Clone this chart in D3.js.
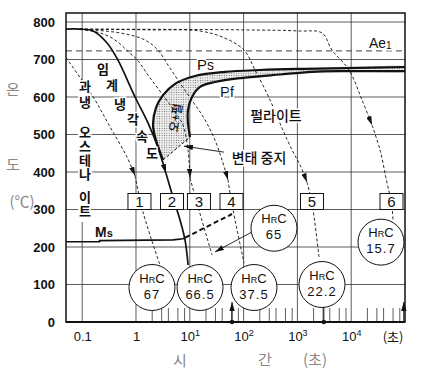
<!DOCTYPE html>
<html>
<head>
<meta charset="utf-8">
<script src="https://cdn.jsdelivr.net/npm/d3@7"></script>
<style>
body { margin: 0; background: #fff; }
svg { display: block; }
text { font-family: "Liberation Sans", Arial, sans-serif; fill: #111; }
.kr { font-family: "Noto Sans CJK KR", sans-serif; }
</style>
</head>
<body>
<svg id="chart" width="424" height="371"></svg>
<script>
// temperature (°C) and time (s) axes
const tempTicks = [0, 100, 200, 300, 400, 500, 600, 700, 800];
const timeDecades = [0.1, 1, 10, 100, 1000, 10000];
const timeLabels = ['0.1', '1', '10^1', '10^2', '10^3', '10^4'];
const minorSteps = [2, 3, 4, 6, 8];
const ae1 = 723;

// pearlite start / finish curves [time, temp]
const psCurve = [[3.18, 432], [2.35, 485], [2.07, 525], [2.35, 571], [3.18, 605], [5.31, 635],
  [12.5, 656], [45, 667], [202, 672], [1117, 675], [7670, 677], [100000, 680]];
const pfCurve = [[10.1, 493], [9.26, 531], [9.26, 565], [11, 600], [15.5, 627], [29.4, 640],
  [97, 651], [475, 660], [1867, 667], [7670, 669], [100000, 669]];

// Ms line
const msSolid = [[0.05, 214], [0.21, 214], [0.21, 217], [4.9, 219], [7.5, 222], [8.2, 225]];
const msDashed = [[8.2, 225], [61, 288]];

// cooling curves [time, temp]; arrowIdx = point where the arrow head sits
const cool1 = [[0.05, 705], [0.16, 600], [0.33, 520], [0.68, 440], [0.96, 390], [1.35, 293], [2.79, 152]];
const cool2 = [[0.05, 781], [0.091, 781], [0.16, 776], [0.29, 744], [0.46, 699], [0.96, 600], [1.67, 531],
  [2.46, 472], [3.6, 397], [4.87, 333], [6.58, 272], [8.15, 219], [9.3, 152]];
const cool3 = [[0.091, 780], [0.2, 772], [0.33, 760], [0.5, 742], [0.75, 718], [1.04, 700], [1.82, 651],
  [3.18, 605], [5.31, 560], [7.48, 525], [9.26, 459], [10.1, 384], [13.6, 317], [25.9, 179]];
const cool4 = [[0.091, 781], [0.5, 771], [1.47, 752], [2.56, 725], [3.94, 685], [6.58, 637], [11.5, 587],
  [19.2, 539], [29.4, 485], [39.7, 432], [51.3, 379], [60, 318], [102, 157]];
const cool5 = [[0.091, 781], [1.82, 779], [15.5, 776], [45, 757], [102, 725], [163, 672], [310, 592],
  [518, 517], [794, 459], [1117, 419], [1507, 373], [1867, 317], [2519, 173]];
const cool6 = [[0.091, 781], [100, 779], [1117, 776], [2866, 771], [4396, 725], [9100, 672], [15900, 592],
  [24400, 525], [34300, 459], [46300, 371], [56100, 318], [59800, 272]];
const coolCurves = [cool1, cool2, cool3, cool4, cool5, cool6];
const arrowIdx = [4, 8, 11, 10, 10, 7];

// numbered boxes (sit on 300 °C) and hardness circles
const boxLabels = ['1', '2', '3', '4', '5', '6'];
const boxTimes = [1.16, 4.67, 14.8, 59.6, 1867, 56100];
const boxTemp = 300;
const hrcValues = ['67', '66.5', '65', '37.5', '22.2', '15.7'];
const hrcTimes = [1.98, 15.5, 367, 156, 2866, 35800];
const hrcTemps = [92, 92, 250, 92, 100, 213];

// pointer arrows and bottom markers
const hrc65Arrow = [[143, 240], [29.4, 187]];
const stopArrow = [[43, 453], [7.8, 469]];
const bottomMarks = [61, 3100, 95000];

const svg = d3.select('#chart');
const x = d3.scaleLog().domain([0.05, 1e5]).range([66, 405]);
const y = d3.scaleLinear().domain([0, 824]).range([322, 13]);
const [x0, x1] = x.range();
const [y0, y1] = y.range();

const straight = d3.line().x(d => x(d[0])).y(d => y(d[1]));
const smooth = d3.line().x(d => x(d[0])).y(d => y(d[1])).curve(d3.curveCatmullRom.alpha(0.5));

const defs = svg.append('defs');
defs.append('marker').attr('id', 'head')
  .attr('viewBox', '0 0 10 6').attr('refX', 10).attr('refY', 3)
  .attr('markerWidth', 9).attr('markerHeight', 5.5)
  .attr('markerUnits', 'userSpaceOnUse').attr('orient', 'auto')
  .append('path').attr('d', 'M0,0L10,3L0,6Z').attr('fill', '#111');
const pat = defs.append('pattern').attr('id', 'dots')
  .attr('width', 2.4).attr('height', 2.4).attr('patternUnits', 'userSpaceOnUse');
pat.append('rect').attr('width', 2.4).attr('height', 2.4).attr('fill', '#f2f2f2');
pat.append('circle').attr('cx', 1.2).attr('cy', 1.2).attr('r', 0.6).attr('fill', '#666');
defs.append('clipPath').attr('id', 'plot').append('rect')
  .attr('x', x0).attr('y', y1).attr('width', x1 - x0).attr('height', y0 - y1);

// grid
const grid = svg.append('g').attr('stroke', '#333').attr('stroke-width', 0.8);
grid.selectAll('.h').data(tempTicks.filter(d => d > 0)).join('line')
  .attr('x1', x0).attr('x2', x1).attr('y1', d => y(d)).attr('y2', d => y(d));
grid.selectAll('.v').data(timeDecades).join('line')
  .attr('x1', d => x(d)).attr('x2', d => x(d)).attr('y1', y1).attr('y2', y0);

const minor = [];
[1, 10, 100, 1000, 10000].forEach(dec => minorSteps.forEach(s => minor.push(dec * s)));
grid.selectAll('.m').data(minor).join('line')
  .attr('x1', d => x(d)).attr('x2', d => x(d)).attr('y1', y0).attr('y2', y0 - 14);

svg.append('line').attr('x1', x0).attr('x2', x1).attr('y1', y(ae1)).attr('y2', y(ae1))
  .attr('stroke', '#444').attr('stroke-width', 1).attr('stroke-dasharray', '6,4');

// text column over the 0.1 s line
svg.append('rect').attr('x', x(0.1) - 4).attr('y', 80).attr('width', 9).attr('height', 142).attr('fill', '#fff');

const plot = svg.append('g').attr('clip-path', 'url(#plot)');

// transformation region
plot.append('path')
  .attr('d', smooth(psCurve.concat(pfCurve.slice().reverse())) + 'Z')
  .attr('fill', 'url(#dots)');
plot.append('path').attr('d', straight([psCurve[0], pfCurve[0]]))
  .attr('fill', 'none').attr('stroke', '#111').attr('stroke-width', 1).attr('stroke-dasharray', '3,2');
[psCurve, pfCurve].forEach(c => plot.append('path').attr('d', smooth(c))
  .attr('fill', 'none').attr('stroke', '#111').attr('stroke-width', 2.2));

// cooling curves
coolCurves.forEach((c, i) => {
  const solid = i === 1;
  const upper = c.slice(0, arrowIdx[i] + 1);
  const lower = c.slice(arrowIdx[i]);
  const st = p => p.attr('fill', 'none').attr('stroke', '#111')
    .attr('stroke-width', solid ? 1.7 : 0.9).attr('stroke-dasharray', solid ? null : '3,2.2');
  plot.append('path').attr('d', smooth(upper)).call(st).attr('marker-end', 'url(#head)');
  plot.append('path').attr('d', smooth(lower)).call(st);
});

// Ms
plot.append('path').attr('d', straight(msSolid)).attr('fill', 'none').attr('stroke', '#111').attr('stroke-width', 1.6);
plot.append('path').attr('d', straight(msDashed)).attr('fill', 'none').attr('stroke', '#111')
  .attr('stroke-width', 2).attr('stroke-dasharray', '5,3');

// pointer arrows
[hrc65Arrow, stopArrow].forEach(a => svg.append('path').attr('d', straight(a))
  .attr('fill', 'none').attr('stroke', '#111').attr('stroke-width', 0.9).attr('marker-end', 'url(#head)'));

// bottom markers
bottomMarks.forEach((t, i) => {
  const g = svg.append('g');
  g.append('line').attr('x1', x(t)).attr('x2', x(t)).attr('y1', y0).attr('y2', y0 - 20)
    .attr('stroke', '#111').attr('stroke-width', 1)
    .attr('marker-end', i === 1 ? null : 'url(#head)');
  if (i < 2) g.append('circle').attr('cx', x(t)).attr('cy', y0).attr('r', 2.2).attr('fill', '#111');
  if (i === 1) g.append('rect').attr('x', x(t) - 3).attr('y', y0 - 18).attr('width', 6).attr('height', 3).attr('fill', '#111');
});

// boxes
const boxes = svg.append('g').selectAll('g').data(boxLabels).join('g')
  .attr('transform', (d, i) => `translate(${x(boxTimes[i])},${y(boxTemp)})`);
boxes.append('rect').attr('x', -11.5).attr('y', -16).attr('width', 23).attr('height', 16)
  .attr('fill', '#fff').attr('stroke', '#111').attr('stroke-width', 1);
boxes.append('text').attr('y', -2.5).attr('text-anchor', 'middle').attr('font-size', 15).text(d => d);

// hardness circles
const hrc = svg.append('g').selectAll('g').data(hrcValues).join('g')
  .attr('transform', (d, i) => `translate(${x(hrcTimes[i])},${y(hrcTemps[i])})`);
hrc.append('circle').attr('r', 23).attr('fill', '#fff').attr('stroke', '#111').attr('stroke-width', 1);
const h1 = hrc.append('text').attr('y', -5).attr('text-anchor', 'middle').attr('font-size', 13);
h1.append('tspan').text('H');
h1.append('tspan').attr('font-size', 9).text('R');
h1.append('tspan').text('C');
hrc.append('text').attr('y', 11).attr('text-anchor', 'middle').attr('font-size', 13)
  .attr('letter-spacing', 1).text(d => d);

// axes
const yAxis = svg.append('g').attr('transform', `translate(${x0},0)`)
  .call(d3.axisLeft(y).tickValues(tempTicks).tickSize(0).tickPadding(11));
yAxis.select('.domain').remove();
yAxis.selectAll('text').attr('font-size', 13).attr('font-weight', 'bold')
  .attr('font-family', '"Liberation Sans", Arial, sans-serif').attr('fill', '#111');

const xAxis = svg.append('g').attr('transform', `translate(0,${y0})`)
  .call(d3.axisBottom(x).tickValues(timeDecades).tickSize(0).tickPadding(10).tickFormat((d, i) => timeLabels[i]));
xAxis.select('.domain').remove();
xAxis.selectAll('text').attr('font-size', 13)
  .attr('font-family', '"Liberation Sans", Arial, sans-serif').attr('fill', '#111')
  .each(function (d, i) {
    const lab = timeLabels[i];
    if (lab.indexOf('^') < 0) return;
    const [b, p] = lab.split('^');
    const t = d3.select(this).text(null);
    t.append('tspan').text(b);
    t.append('tspan').attr('font-size', 9).attr('dy', -5).text(p);
  });
svg.append('text').attr('class', 'kr').attr('x', 393).attr('y', 342).attr('text-anchor', 'middle')
  .attr('font-size', 13).text('(초)');

// frame
svg.append('rect').attr('x', x0).attr('y', y1).attr('width', x1 - x0).attr('height', y0 - y1)
  .attr('fill', 'none').attr('stroke', '#111').attr('stroke-width', 1.5);
svg.append('line').attr('x1', x0).attr('x2', x1).attr('y1', y0).attr('y2', y0)
  .attr('stroke', '#111').attr('stroke-width', 2);

// labels
const halo = s => s.attr('stroke', '#fff').attr('stroke-width', 3).attr('paint-order', 'stroke');
const kr = (px, py, s, size, weight) => svg.append('text').attr('class', 'kr')
  .attr('x', px).attr('y', py).attr('text-anchor', 'middle').attr('dominant-baseline', 'central')
  .attr('font-size', size).attr('font-weight', weight || 500).text(s);

// vertical label "과냉 오스테나이트", one text per group
const colA = ['과냉', '오스테나', '이트'];
const colAtop = [80, 126, 191];
const colAgap = [3, 1, 1];
colA.forEach((s, i) => svg.append('text').attr('class', 'kr')
  .attr('x', 85).attr('y', colAtop[i]).style('writing-mode', 'vertical-rl')
  .attr('font-size', 13).attr('font-weight', 700).attr('letter-spacing', colAgap[i])
  .text(s).call(halo));

const colB = ['임', '계', '냉', '각', '속', '도'];
const colBpos = [[103, 68], [112, 84], [120, 103], [133, 118], [142, 135], [152, 152]];
colB.forEach((c, i) => kr(colBpos[i][0], colBpos[i][1], c, 13, 700).call(halo));

kr(x(400), y(552), '펄라이트', 14, 500).call(halo);
kr(x(193), y(440), '변태 중지', 14, 500).call(halo);
svg.append('text').attr('class', 'kr').attr('font-size', 12).attr('font-weight', 500)
  .attr('text-anchor', 'middle').attr('dominant-baseline', 'central')
  .attr('transform', `translate(${x(5.2)},${y(545)}) rotate(-80)`).text('오+펄');

const sym = (px, py, big, small, sizeB, sizeS, dy) => {
  const t = svg.append('text').attr('x', px).attr('y', py).attr('font-size', sizeB);
  t.append('tspan').text(big);
  t.append('tspan').attr('font-size', sizeS).attr('dy', dy).text(small);
  return t;
};
sym(x(13.6), y(672), 'P', 's', 15, 14, 0).call(halo);
sym(x(36.4), y(600), 'P', 'f', 15, 14, 0).call(halo);
sym(x(21400), y(731), 'Ae', '1', 14, 10, 1).call(halo);
sym(x(0.173), y(227), 'M', 's', 14, 11, 0).attr('font-weight', 'bold').call(halo);

// axis titles
const grey = (px, py, s) => svg.append('text').attr('class', 'kr').attr('x', px).attr('y', py)
  .attr('text-anchor', 'middle').attr('dominant-baseline', 'central')
  .attr('font-size', 15).attr('font-weight', 400).style('fill', '#888').text(s);
grey(13, 88, '온');
grey(13, 163, '도');
grey(22, 200, '(℃)');
grey(180, 359, '시');
grey(265, 358, '간');
grey(315, 358, '(초)');
</script>
</body>
</html>
